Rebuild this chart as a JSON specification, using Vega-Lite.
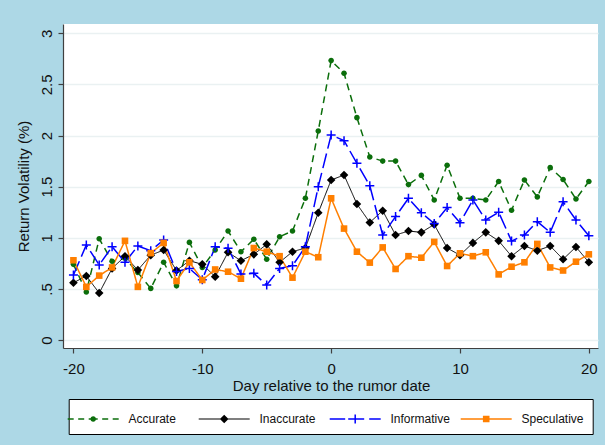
{
  "$schema": "https://vega.github.io/schema/vega-lite/v6.json",
  "width": 535,
  "height": 324,
  "autosize": {"type": "none"},
  "padding": {"left": 63, "top": 24, "right": 7, "bottom": 97},
  "background": "#add8e6",
  "config": {"view": {"fill": "white", "stroke": null}, "font": "Liberation Sans"},
  "data": {"values": [
    {"day":-20,"series":"Accurate","vol":0.74},{"day":-19,"series":"Accurate","vol":0.47},{"day":-18,"series":"Accurate","vol":0.99},{"day":-17,"series":"Accurate","vol":0.77},{"day":-16,"series":"Accurate","vol":0.80},{"day":-15,"series":"Accurate","vol":0.66},{"day":-14,"series":"Accurate","vol":0.505},{"day":-13,"series":"Accurate","vol":0.76},{"day":-12,"series":"Accurate","vol":0.53},{"day":-11,"series":"Accurate","vol":0.955},{"day":-10,"series":"Accurate","vol":0.71},{"day":-9,"series":"Accurate","vol":0.88},{"day":-8,"series":"Accurate","vol":1.066},{"day":-7,"series":"Accurate","vol":0.864},{"day":-6,"series":"Accurate","vol":0.985},{"day":-5,"series":"Accurate","vol":0.79},{"day":-4,"series":"Accurate","vol":1.01},{"day":-3,"series":"Accurate","vol":1.066},{"day":-2,"series":"Accurate","vol":1.386},{"day":-1,"series":"Accurate","vol":2.045},{"day":0,"series":"Accurate","vol":2.733},{"day":1,"series":"Accurate","vol":2.61},{"day":2,"series":"Accurate","vol":2.175},{"day":3,"series":"Accurate","vol":1.79},{"day":4,"series":"Accurate","vol":1.75},{"day":5,"series":"Accurate","vol":1.75},{"day":6,"series":"Accurate","vol":1.52},{"day":7,"series":"Accurate","vol":1.61},{"day":8,"series":"Accurate","vol":1.37},{"day":9,"series":"Accurate","vol":1.71},{"day":10,"series":"Accurate","vol":1.386},{"day":11,"series":"Accurate","vol":1.386},{"day":12,"series":"Accurate","vol":1.37},{"day":13,"series":"Accurate","vol":1.55},{"day":14,"series":"Accurate","vol":1.27},{"day":15,"series":"Accurate","vol":1.565},{"day":16,"series":"Accurate","vol":1.40},{"day":17,"series":"Accurate","vol":1.686},{"day":18,"series":"Accurate","vol":1.57},{"day":19,"series":"Accurate","vol":1.38},{"day":20,"series":"Accurate","vol":1.55},
    {"day":-20,"series":"Inaccurate","vol":0.56},{"day":-19,"series":"Inaccurate","vol":0.626},{"day":-18,"series":"Inaccurate","vol":0.46},{"day":-17,"series":"Inaccurate","vol":0.70},{"day":-16,"series":"Inaccurate","vol":0.82},{"day":-15,"series":"Inaccurate","vol":0.685},{"day":-14,"series":"Inaccurate","vol":0.83},{"day":-13,"series":"Inaccurate","vol":0.88},{"day":-12,"series":"Inaccurate","vol":0.68},{"day":-11,"series":"Inaccurate","vol":0.776},{"day":-10,"series":"Inaccurate","vol":0.74},{"day":-9,"series":"Inaccurate","vol":0.62},{"day":-8,"series":"Inaccurate","vol":0.858},{"day":-7,"series":"Inaccurate","vol":0.776},{"day":-6,"series":"Inaccurate","vol":0.838},{"day":-5,"series":"Inaccurate","vol":0.936},{"day":-4,"series":"Inaccurate","vol":0.76},{"day":-3,"series":"Inaccurate","vol":0.864},{"day":-2,"series":"Inaccurate","vol":0.90},{"day":-1,"series":"Inaccurate","vol":1.245},{"day":0,"series":"Inaccurate","vol":1.565},{"day":1,"series":"Inaccurate","vol":1.614},{"day":2,"series":"Inaccurate","vol":1.33},{"day":3,"series":"Inaccurate","vol":1.15},{"day":4,"series":"Inaccurate","vol":1.265},{"day":5,"series":"Inaccurate","vol":1.027},{"day":6,"series":"Inaccurate","vol":1.066},{"day":7,"series":"Inaccurate","vol":1.053},{"day":8,"series":"Inaccurate","vol":1.13},{"day":9,"series":"Inaccurate","vol":0.90},{"day":10,"series":"Inaccurate","vol":0.83},{"day":11,"series":"Inaccurate","vol":0.95},{"day":12,"series":"Inaccurate","vol":1.053},{"day":13,"series":"Inaccurate","vol":0.97},{"day":14,"series":"Inaccurate","vol":0.82},{"day":15,"series":"Inaccurate","vol":0.92},{"day":16,"series":"Inaccurate","vol":0.874},{"day":17,"series":"Inaccurate","vol":0.92},{"day":18,"series":"Inaccurate","vol":0.79},{"day":19,"series":"Inaccurate","vol":0.91},{"day":20,"series":"Inaccurate","vol":0.76},
    {"day":-20,"series":"Informative","vol":0.636},{"day":-19,"series":"Informative","vol":0.93},{"day":-18,"series":"Informative","vol":0.734},{"day":-17,"series":"Informative","vol":0.913},{"day":-16,"series":"Informative","vol":0.76},{"day":-15,"series":"Informative","vol":0.92},{"day":-14,"series":"Informative","vol":0.874},{"day":-13,"series":"Informative","vol":0.978},{"day":-12,"series":"Informative","vol":0.67},{"day":-11,"series":"Informative","vol":0.70},{"day":-10,"series":"Informative","vol":0.59},{"day":-9,"series":"Informative","vol":0.913},{"day":-8,"series":"Informative","vol":0.897},{"day":-7,"series":"Informative","vol":0.645},{"day":-6,"series":"Informative","vol":0.652},{"day":-5,"series":"Informative","vol":0.538},{"day":-4,"series":"Informative","vol":0.70},{"day":-3,"series":"Informative","vol":0.727},{"day":-2,"series":"Informative","vol":0.913},{"day":-1,"series":"Informative","vol":1.50},{"day":0,"series":"Informative","vol":2.005},{"day":1,"series":"Informative","vol":1.95},{"day":2,"series":"Informative","vol":1.728},{"day":3,"series":"Informative","vol":1.51},{"day":4,"series":"Informative","vol":1.027},{"day":5,"series":"Informative","vol":1.207},{"day":6,"series":"Informative","vol":1.386},{"day":7,"series":"Informative","vol":1.245},{"day":8,"series":"Informative","vol":1.14},{"day":9,"series":"Informative","vol":1.295},{"day":10,"series":"Informative","vol":1.148},{"day":11,"series":"Informative","vol":1.37},{"day":12,"series":"Informative","vol":1.174},{"day":13,"series":"Informative","vol":1.25},{"day":14,"series":"Informative","vol":0.968},{"day":15,"series":"Informative","vol":1.027},{"day":16,"series":"Informative","vol":1.158},{"day":17,"series":"Informative","vol":1.053},{"day":18,"series":"Informative","vol":1.353},{"day":19,"series":"Informative","vol":1.174},{"day":20,"series":"Informative","vol":1.02},
    {"day":-20,"series":"Speculative","vol":0.78},{"day":-19,"series":"Speculative","vol":0.52},{"day":-18,"series":"Speculative","vol":0.63},{"day":-17,"series":"Speculative","vol":0.71},{"day":-16,"series":"Speculative","vol":0.97},{"day":-15,"series":"Speculative","vol":0.52},{"day":-14,"series":"Speculative","vol":0.85},{"day":-13,"series":"Speculative","vol":0.95},{"day":-12,"series":"Speculative","vol":0.577},{"day":-11,"series":"Speculative","vol":0.76},{"day":-10,"series":"Speculative","vol":0.587},{"day":-9,"series":"Speculative","vol":0.69},{"day":-8,"series":"Speculative","vol":0.668},{"day":-7,"series":"Speculative","vol":0.60},{"day":-6,"series":"Speculative","vol":0.90},{"day":-5,"series":"Speculative","vol":0.864},{"day":-4,"series":"Speculative","vol":0.82},{"day":-3,"series":"Speculative","vol":0.61},{"day":-2,"series":"Speculative","vol":0.864},{"day":-1,"series":"Speculative","vol":0.81},{"day":0,"series":"Speculative","vol":1.386},{"day":1,"series":"Speculative","vol":1.09},{"day":2,"series":"Speculative","vol":0.864},{"day":3,"series":"Speculative","vol":0.757},{"day":4,"series":"Speculative","vol":0.906},{"day":5,"series":"Speculative","vol":0.695},{"day":6,"series":"Speculative","vol":0.82},{"day":7,"series":"Speculative","vol":0.805},{"day":8,"series":"Speculative","vol":0.96},{"day":9,"series":"Speculative","vol":0.724},{"day":10,"series":"Speculative","vol":0.848},{"day":11,"series":"Speculative","vol":0.82},{"day":12,"series":"Speculative","vol":0.858},{"day":13,"series":"Speculative","vol":0.642},{"day":14,"series":"Speculative","vol":0.717},{"day":15,"series":"Speculative","vol":0.76},{"day":16,"series":"Speculative","vol":0.94},{"day":17,"series":"Speculative","vol":0.71},{"day":18,"series":"Speculative","vol":0.68},{"day":19,"series":"Speculative","vol":0.766},{"day":20,"series":"Speculative","vol":0.838}
  ]},
  "encoding": {
    "x": {"field": "day", "type": "quantitative",
      "scale": {"domain": [-20.81, 20.71], "nice": false, "zero": false},
      "axis": {"values": [-20, -10, 0, 10, 20], "labelExpr": "toString(datum.value)", "title": "Day relative to the rumor date", "grid": false,
        "tickSize": 5, "labelPadding": 8.5, "labelFontSize": 15, "labelColor": "#111111", "labelFlush": false, "labelOverlap": false,
        "titleFontSize": 15, "titleFontWeight": "normal", "titleColor": "#111111", "titleX": 268, "titleY": 42.7, "titleBaseline": "alphabetic",
        "domainColor": "#404040", "tickColor": "#404040", "domainWidth": 1.2, "tickWidth": 1.2}},
    "y": {"field": "vol", "type": "quantitative",
      "scale": {"domain": [-0.078, 3.091], "nice": false, "zero": false},
      "axis": {"values": [0, 0.5, 1, 1.5, 2, 2.5, 3], "labelExpr": "datum.value == 0.5 ? '.5' : format(datum.value, '~g')",
        "labelAngle": -90, "labelAlign": "center", "labelBaseline": "alphabetic", "labelPadding": 7, "labelFontSize": 15, "labelColor": "#111111",
        "tickSize": 5, "grid": true, "gridColor": "#eaf1f2", "gridWidth": 1.5,
        "title": "Return Volatility (%)", "titleFontSize": 15, "titleFontWeight": "normal", "titleColor": "#111111",
        "titleX": -35, "titleY": 162, "titleAngle": -90, "titleBaseline": "alphabetic", "titleAlign": "center",
        "domainColor": "#404040", "tickColor": "#404040", "domainWidth": 1.2, "tickWidth": 1.2}}
  },
  "layer": [
    {
      "data": {"values": [{"day": 0}]},
      "mark": {"type": "rule", "color": "#c4c4c4", "strokeDash": [6, 4], "strokeWidth": 1.5},
      "encoding": {"y": {"datum": 3.091}, "y2": {"datum": -0.078}}
    },
    {
      "mark": {"type": "line"},
      "encoding": {
        "color": {"field": "series", "type": "nominal",
          "scale": {"domain": ["Accurate", "Inaccurate", "Informative", "Speculative"], "range": ["#0b6e0b", "#000000", "#0000ff", "#ff7f00"]},
          "legend": null},
        "strokeDash": {"field": "series", "type": "nominal", "legend": null,
          "scale": {"domain": ["Accurate", "Inaccurate", "Informative", "Speculative"], "range": [[7, 5], [1, 0], [15, 5], [1, 0]]}},
        "strokeWidth": {"field": "series", "type": "nominal", "legend": null,
          "scale": {"type": "ordinal", "domain": ["Accurate", "Inaccurate", "Informative", "Speculative"], "range": [1.5, 1, 1.5, 1.5]}}
      }
    },
    {
      "mark": {"type": "point", "filled": true, "size": 100, "opacity": 1, "strokeWidth": 0},
      "encoding": {
        "color": {"field": "series", "type": "nominal",
          "legend": {"orient": "none", "legendX": 5.7, "legendY": 375, "direction": "horizontal", "columns": 4,
            "title": ".", "titleColor": "transparent", "titleFontSize": 3, "titlePadding": 2,
            "symbolSize": 100, "symbolStrokeWidth": 0, "symbolOpacity": 1, "symbolOffset": 9.5, "labelOffset": 29.3,
            "labelFontSize": 12, "labelColor": "#111111", "gridAlign": "all", "columnPadding": 8, "padding": 9,
            "fillColor": "white", "strokeColor": "black",
            "encode": {"symbols": {"update": {"shape": {"signal": "datum.value == 'Accurate' ? 'M-5.1,-0.15H-3.9V0.15H-5.1Z M-3,-0.15H-1.8V0.15H-3Z M-0.9,-0.15H0.9V0.15H-0.9Z M1.8,-0.15H3V0.15H1.8Z M3.9,-0.15H5.1V0.15H3.9Z M0.56,0A0.56,0.56 0 1,1 -0.56,0A0.56,0.56 0 1,1 0.56,0Z' : datum.value == 'Inaccurate' ? 'M-5.1,-0.1H5.1V0.1H-5.1Z M0,-0.86L0.86,0L0,0.86L-0.86,0Z' : datum.value == 'Informative' ? 'M-5.1,-0.15H-2V0.15H-5.1Z M-1.4,-0.15H1.8V0.15H-1.4Z M2.8,-0.15H5.1V0.15H2.8Z M-0.9,-0.15H-0.15V-0.9H0.15V-0.15H0.9V0.15H0.15V0.9H-0.15V0.15H-0.9Z' : 'M-5.1,-0.15H5.1V0.15H-5.1Z M-0.66,-0.66H0.66V0.66H-0.66Z'"}}}}}},
        "shape": {"field": "series", "type": "nominal", "legend": null,
          "scale": {"domain": ["Accurate", "Inaccurate", "Informative", "Speculative"],
            "range": ["M0.56,0A0.56,0.56 0 1,1 -0.56,0A0.56,0.56 0 1,1 0.56,0Z", "M0,-0.86L0.86,0L0,0.86L-0.86,0Z", "M-0.9,-0.15H-0.15V-0.9H0.15V-0.15H0.9V0.15H0.15V0.9H-0.15V0.15H-0.9Z", "M-0.66,-0.66H0.66V0.66H-0.66Z"]}}
      }
    }
  ],
  "resolve": {"legend": {"color": "independent"}}
}
